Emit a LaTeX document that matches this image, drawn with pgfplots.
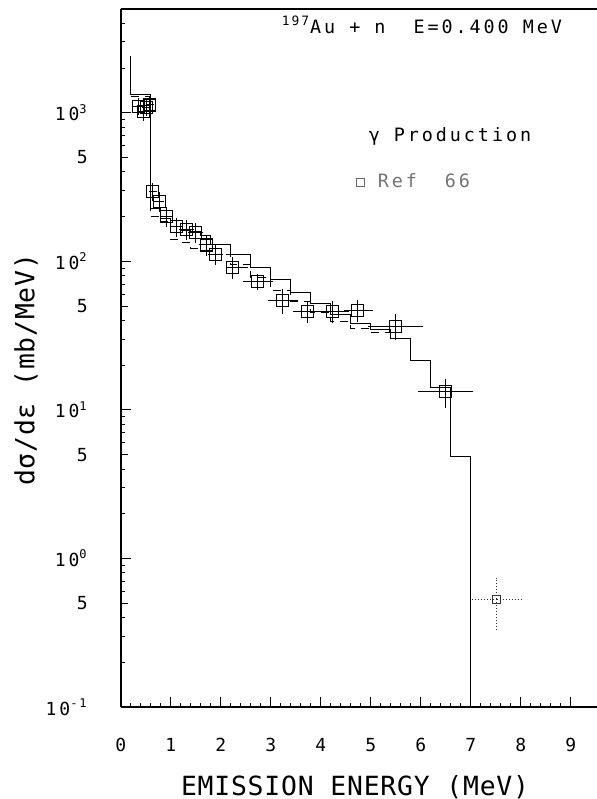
\documentclass[border=0pt]{standalone}
\usepackage{pgfplots}
\pgfplotsset{compat=1.18}
\usepackage{fontspec}
\setmainfont{DejaVu Sans Mono}
\newfontfamily\plotfont[LetterSpace=16]{DejaVu Sans Mono}
\newfontfamily\labfont[LetterSpace=3]{DejaVu Sans Mono}
\newcommand\tickfont{\plotfont\fontsize{9}{10}\selectfont}
\newcommand\labelfont{\labfont\fontsize{13.2}{15}\selectfont}
\newcommand\annfont{\plotfont\fontsize{9.2}{11}\selectfont}

\pgfplotstableread{
x     y     xm    xp    ym   yp
0.35  1100  0.05  0.05  100  100
0.45  1020  0.05  0.05  100  100
0.52  1080  0.04  0.04  90   90
0.58  1130  0.03  0.03  100  100
0.64  295   0.03  0.03  30   30
0.77  253   0.05  0.05  28   28
0.91  200   0.06  0.06  22   22
1.11  171   0.08  0.08  18   18
1.31  163   0.10  0.10  18   18
1.50  157   0.10  0.10  18   18
1.71  129   0.10  0.10  15   15
1.90  111   0.10  0.10  13   13
2.24  91    0.09  0.25  12   11
2.73  73    0.24  0.26  6    6
3.23  54.5  0.24  0.26  8.5  8
3.74  45.9  0.25  0.25  6    6
4.24  45.9  0.25  0.28  6    6
4.74  46.5  0.22  0.25  6    6
5.50  36.4  0.50  0.50  5.5  6
6.50  13.3  0.50  0.50  2.5  2.2
}\expdata

\begin{document}
\begin{tikzpicture}
\begin{axis}[
  scale only axis, width=238.15pt, height=349pt,
  xmin=0, xmax=9.526, ymode=log, ymin=0.1, ymax=5000,
  axis x line*=box, axis y line*=left,
  xtick pos=left, ytick pos=left,
  tick align=inside,
  /pgf/number format/assume math mode=true,
  xtick={0,1,2,3,4,5,6,7,8,9}, minor x tick num=4,
  ytick={0.1,1,10,100,1000},
  yticklabels={10\textsuperscript{-1},10\textsuperscript{0},10\textsuperscript{1},10\textsuperscript{2},10\textsuperscript{3}},
  minor ytick={0.2,0.3,0.4,0.6,0.7,0.8,0.9,2,3,4,6,7,8,9,20,30,40,60,70,80,90,200,300,400,600,700,800,900,2000,3000,4000,5000},
  extra y ticks={0.5,5,50,500},
  extra y tick labels={5,5,5,5},
  extra y tick style={major tick length=3.5pt},
  major tick length=5pt, minor tick length=2.2pt,
  axis line style={line width=1pt},
  every tick/.style={black, line width=0.5pt},
  xticklabel style={font=\tickfont, yshift=-12pt},
  yticklabel style={font=\tickfont, xshift=-13pt},
  xlabel={EMISSION ENERGY (MeV)},
  ylabel={dσ/dε (mb/MeV)},
  xlabel style={at={(axis description cs:0.492,-0.1146)}, anchor=center, font=\labelfont},
  ylabel style={at={(axis description cs:-0.1988,0.483)}, anchor=center, font=\labelfont},
  legend style={at={(axis description cs:0.4948,0.752)}, anchor=west, draw=none, fill=none,
    font=\annfont, text=black!55, inner sep=0pt, legend cell align=left},
]
% calculation, solid histogram
\addplot[forget plot, const plot mark left, black, line width=0.55pt] coordinates {
(0.2,2400) (0.2,1320) (0.6,226) (0.8,195) (1.0,172) (1.2,162) (1.4,158) (1.6,150)
(1.8,130) (2.2,111) (2.6,91) (3.0,76) (3.4,62) (3.8,51.8) (4.2,43.6) (4.6,38.4)
(5.0,35) (5.4,30.4) (5.8,21.5) (6.2,14.2) (6.6,4.85) (7.0,0.1)
};
% calculation, dashed histogram
\addplot[forget plot, const plot mark left, black, line width=0.5pt, dash pattern=on 4pt off 3pt] coordinates {
(0.2,1280) (0.6,200) (0.8,185) (1.0,140) (1.2,135) (1.4,123) (1.6,118) (1.8,112)
(2.2,95) (2.6,78) (3.0,64) (3.4,53.6) (3.8,45) (4.2,39.4) (4.6,35.5) (5.0,33)
(5.4,30.4) (5.8,21.5) (6.2,14.2) (6.6,4.85) (7.0,4.85)
};
% experimental data
\addplot[forget plot, only marks, black, mark=square, mark size=3pt, mark options={line width=0.6pt},
  error bars/.cd, x dir=both, x explicit, y dir=both, y explicit,
  error bar style={line width=0.5pt}, error mark options={mark size=1.3pt, line width=0.5pt}]
  table[x=x, y=y, x error plus=xp, x error minus=xm, y error plus=yp, y error minus=ym]{\expdata};
\addplot[forget plot, only marks, black!80, mark=square, mark size=2pt, mark options={line width=0.5pt},
  error bars/.cd, x dir=both, x explicit, y dir=both, y explicit,
  error bar style={line width=0.5pt, densely dotted}, error mark=none]
  coordinates {(7.52,0.53) +- (0.51,0.21)};
\addlegendimage{only marks, mark=square, mark size=2pt, black!60, mark options={line width=0.5pt}}
\addlegendentry{\hspace{4.5pt}Ref~~66}
\node[anchor=base east, font=\annfont] at (axis description cs:0.9412,0.9656) {\textsuperscript{197}Au + n~~E=0.400 MeV};
\node[anchor=base west, font=\annfont] at (axis description cs:0.506,0.8099) {γ Production};
\coordinate (SW) at (rel axis cs:0,0);
\end{axis}
\pgfresetboundingbox
\path[use as bounding box] (SW) ++(-60.35pt,-46pt) rectangle ++(298.5pt,399.5pt);
\end{tikzpicture}
\end{document}
